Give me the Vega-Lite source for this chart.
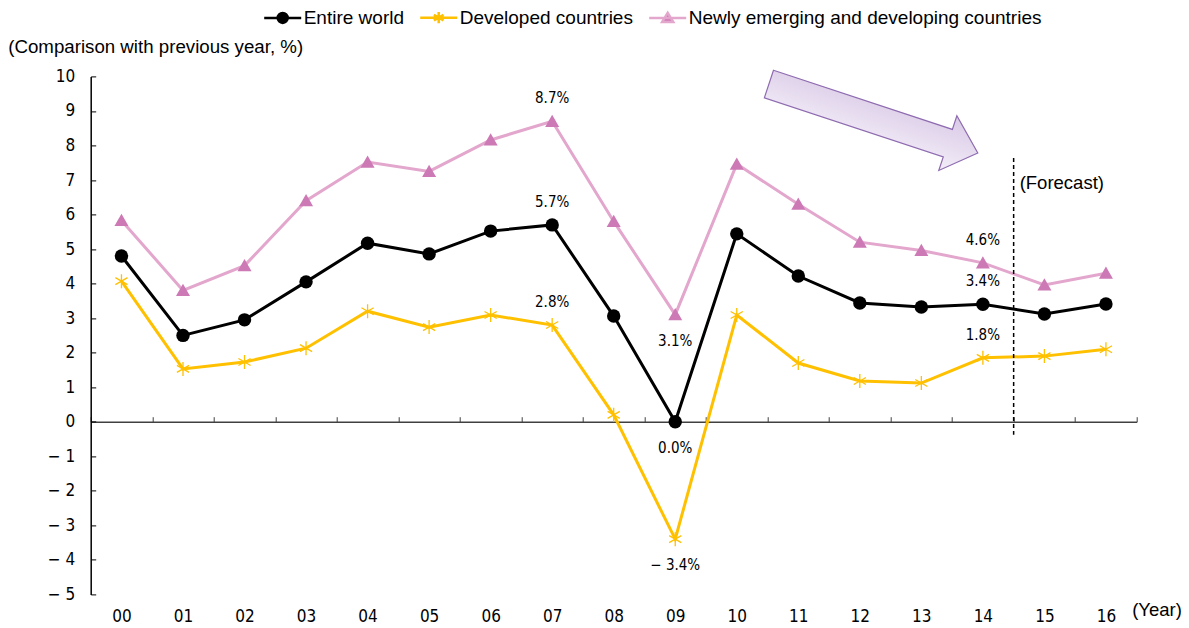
{
  "$schema": "https://vega.github.io/schema/vega-lite/v6.json",
  "width": 1046,
  "height": 518,
  "autosize": "none",
  "padding": {"left": 90.7, "top": 76.4, "right": 52.3, "bottom": 33.6},
  "background": "white",
  "config": {"view": {"stroke": null}, "font": "Liberation Sans"},
  "datasets": {
    "series": [
      {"year": "00", "series": "Entire world", "value": 4.8},
      {"year": "01", "series": "Entire world", "value": 2.5},
      {"year": "02", "series": "Entire world", "value": 2.95},
      {"year": "03", "series": "Entire world", "value": 4.05},
      {"year": "04", "series": "Entire world", "value": 5.17},
      {"year": "05", "series": "Entire world", "value": 4.86},
      {"year": "06", "series": "Entire world", "value": 5.52},
      {"year": "07", "series": "Entire world", "value": 5.7},
      {"year": "08", "series": "Entire world", "value": 3.06},
      {"year": "09", "series": "Entire world", "value": 0.0},
      {"year": "10", "series": "Entire world", "value": 5.44},
      {"year": "11", "series": "Entire world", "value": 4.22},
      {"year": "12", "series": "Entire world", "value": 3.44},
      {"year": "13", "series": "Entire world", "value": 3.32},
      {"year": "14", "series": "Entire world", "value": 3.4},
      {"year": "15", "series": "Entire world", "value": 3.12},
      {"year": "16", "series": "Entire world", "value": 3.41},
      {"year": "00", "series": "Developed countries", "value": 4.07},
      {"year": "01", "series": "Developed countries", "value": 1.53},
      {"year": "02", "series": "Developed countries", "value": 1.73},
      {"year": "03", "series": "Developed countries", "value": 2.13},
      {"year": "04", "series": "Developed countries", "value": 3.2},
      {"year": "05", "series": "Developed countries", "value": 2.74},
      {"year": "06", "series": "Developed countries", "value": 3.09},
      {"year": "07", "series": "Developed countries", "value": 2.8},
      {"year": "08", "series": "Developed countries", "value": 0.2},
      {"year": "09", "series": "Developed countries", "value": -3.4},
      {"year": "10", "series": "Developed countries", "value": 3.09},
      {"year": "11", "series": "Developed countries", "value": 1.7},
      {"year": "12", "series": "Developed countries", "value": 1.18},
      {"year": "13", "series": "Developed countries", "value": 1.12},
      {"year": "14", "series": "Developed countries", "value": 1.85},
      {"year": "15", "series": "Developed countries", "value": 1.9},
      {"year": "16", "series": "Developed countries", "value": 2.1},
      {"year": "00", "series": "Newly emerging and developing countries", "value": 5.83},
      {"year": "01", "series": "Newly emerging and developing countries", "value": 3.8},
      {"year": "02", "series": "Newly emerging and developing countries", "value": 4.52},
      {"year": "03", "series": "Newly emerging and developing countries", "value": 6.4},
      {"year": "04", "series": "Newly emerging and developing countries", "value": 7.52},
      {"year": "05", "series": "Newly emerging and developing countries", "value": 7.25},
      {"year": "06", "series": "Newly emerging and developing countries", "value": 8.16},
      {"year": "07", "series": "Newly emerging and developing countries", "value": 8.7},
      {"year": "08", "series": "Newly emerging and developing countries", "value": 5.8},
      {"year": "09", "series": "Newly emerging and developing countries", "value": 3.1},
      {"year": "10", "series": "Newly emerging and developing countries", "value": 7.46},
      {"year": "11", "series": "Newly emerging and developing countries", "value": 6.3},
      {"year": "12", "series": "Newly emerging and developing countries", "value": 5.2},
      {"year": "13", "series": "Newly emerging and developing countries", "value": 4.96},
      {"year": "14", "series": "Newly emerging and developing countries", "value": 4.6},
      {"year": "15", "series": "Newly emerging and developing countries", "value": 3.96},
      {"year": "16", "series": "Newly emerging and developing countries", "value": 4.3}
    ],
    "labels": [
      {"year": "07", "value": 8.7, "text": "8.7%", "side": "above"},
      {"year": "07", "value": 5.7, "text": "5.7%", "side": "above"},
      {"year": "07", "value": 2.8, "text": "2.8%", "side": "above"},
      {"year": "14", "value": 4.6, "text": "4.6%", "side": "above"},
      {"year": "14", "value": 3.4, "text": "3.4%", "side": "above"},
      {"year": "14", "value": 1.85, "text": "1.8%", "side": "above"},
      {"year": "09", "value": 3.1, "text": "3.1%", "side": "below"},
      {"year": "09", "value": 0.0, "text": "0.0%", "side": "below"},
      {"year": "09", "value": -3.4, "text": "− 3.4%", "side": "below"}
    ],
    "forecast": [
      {"year": "14", "top": 7.64, "bottom": -0.38, "text": "(Forecast)"}
    ],
    "arrow": [
      {"year": "12", "value": 8.78}
    ]
  },
  "layer": [
    {
      "data": {"name": "series"},
      "mark": {"type": "line", "strokeWidth": 3},
      "encoding": {
        "x": {
          "field": "year", "type": "ordinal",
          "scale": {"type": "band", "paddingInner": 0, "paddingOuter": 0},
          "axis": {
            "title": "(Year)", "offset": -172.7, "tickBand": "extent", "tickSize": -5,
            "tickColor": "#404040", "tickWidth": 1, "domainColor": "#404040", "domainWidth": 1.5,
            "labelAngle": 0, "labelAlign": "center", "labelPadding": 192,
            "labelFont": "DejaVu Sans Condensed, Liberation Sans", "labelOverlap": false,
            "labelFontSize": 17, "labelColor": "#000000", "grid": false,
            "titleX": 1041, "titleY": 188, "titleAlign": "left", "titleBaseline": "middle",
            "titleFont": "Liberation Sans", "titleFontSize": 18.5, "titleFontWeight": "normal", "titleColor": "#000000"
          }
        },
        "y": {
          "field": "value", "type": "quantitative",
          "scale": {"domain": [-5, 10], "nice": false, "zero": false},
          "axis": {
            "title": "(Comparison with previous year, %)", "titleAngle": 0, "titleAlign": "left",
            "titleBaseline": "middle", "titleX": -83, "titleY": -30, "titleFont": "Liberation Sans",
            "titleFontSize": 18.7, "titleFontWeight": "normal", "titleColor": "#000000",
            "tickCount": 15, "format": "d",
            "labelExpr": "datum.value < 0 ? '− ' + abs(datum.value) : datum.label",
            "labelFont": "DejaVu Sans Condensed, Liberation Sans", "labelFontSize": 17, "labelColor": "#000000",
            "labelOverlap": false,
            "labelPadding": 21, "tickSize": -5, "tickColor": "#000000", "tickWidth": 1,
            "domainColor": "#000000", "domainWidth": 1.5, "grid": false
          }
        },
        "stroke": {
          "field": "series", "type": "nominal",
          "scale": {
            "domain": ["Entire world", "Developed countries", "Newly emerging and developing countries"],
            "range": ["#000000", "#FFC000", "#E3A6CD"]
          },
          "legend": {
            "orient": "none", "legendX": 172, "legendY": -79, "direction": "horizontal",
            "title": null, "symbolSize": 1369, "symbolStrokeWidth": 2.5,
            "labelFont": "Liberation Sans", "labelFontSize": 19, "labelColor": "#000000",
            "labelLimit": 0, "labelOffset": 1, "columnPadding": 10, "padding": 0,
            "encode": {
              "symbols": {
                "update": {
                  "shape": {"signal": "datum.value === 'Entire world' ? 'M -1 0 L 1 0 M -0.27 0 A 0.27 0.27 0 1 1 0.27 0 A 0.27 0.27 0 1 1 -0.27 0 Z' : datum.value === 'Developed countries' ? 'M -1 0 L 1 0 M 0 -0.3 L 0 0.3 M -0.26 -0.15 L 0.26 0.15 M -0.26 0.15 L 0.26 -0.15' : 'M -1 0 L 1 0 M 0 -0.27 L 0.3 0.22 L -0.3 0.22 Z'"},
                  "fill": {"signal": "datum.value === 'Entire world' ? '#000000' : datum.value === 'Developed countries' ? 'transparent' : '#CC79B5'"},
                  "strokeWidth": {"value": 2.5}
                }
              }
            }
          }
        }
      }
    },
    {
      "data": {"name": "forecast"},
      "mark": {"type": "rule", "strokeDash": [4, 3], "strokeWidth": 1.5, "color": "#000000"},
      "encoding": {
        "x": {"field": "year", "type": "ordinal", "bandPosition": 1},
        "y": {"field": "top", "type": "quantitative"},
        "y2": {"field": "bottom"}
      }
    },
    {
      "data": {"name": "series"},
      "transform": [{"filter": "datum.series === 'Entire world'"}],
      "mark": {"type": "point", "shape": "circle", "filled": true, "size": 180, "color": "#000000", "opacity": 1},
      "encoding": {
        "x": {"field": "year", "type": "ordinal"},
        "y": {"field": "value", "type": "quantitative"}
      }
    },
    {
      "data": {"name": "series"},
      "transform": [{"filter": "datum.series === 'Developed countries'"}],
      "mark": {"type": "point", "shape": "M 0 -1 L 0 1 M -0.87 -0.5 L 0.87 0.5 M -0.87 0.5 L 0.87 -0.5", "filled": false, "size": 196, "stroke": "#FFC000", "strokeWidth": 1.3, "opacity": 1},
      "encoding": {
        "x": {"field": "year", "type": "ordinal"},
        "y": {"field": "value", "type": "quantitative"}
      }
    },
    {
      "data": {"name": "series"},
      "transform": [{"filter": "datum.series === 'Newly emerging and developing countries'"}],
      "mark": {"type": "point", "shape": "M 0 -0.95 L 1 0.8 L -1 0.8 Z", "filled": true, "size": 196, "color": "#CC79B5", "opacity": 1},
      "encoding": {
        "x": {"field": "year", "type": "ordinal"},
        "y": {"field": "value", "type": "quantitative"}
      }
    },
    {
      "data": {"name": "labels"},
      "transform": [{"filter": "datum.side === 'above'"}],
      "mark": {"type": "text", "dy": -23, "font": "DejaVu Sans Condensed, Liberation Sans", "fontSize": 15, "color": "#000000", "baseline": "middle"},
      "encoding": {
        "x": {"field": "year", "type": "ordinal"},
        "y": {"field": "value", "type": "quantitative"},
        "text": {"field": "text"}
      }
    },
    {
      "data": {"name": "labels"},
      "transform": [{"filter": "datum.side === 'below'"}],
      "mark": {"type": "text", "dy": 26, "font": "DejaVu Sans Condensed, Liberation Sans", "fontSize": 15, "color": "#000000", "baseline": "middle"},
      "encoding": {
        "x": {"field": "year", "type": "ordinal"},
        "y": {"field": "value", "type": "quantitative"},
        "text": {"field": "text"}
      }
    },
    {
      "data": {"name": "forecast"},
      "mark": {"type": "text", "align": "left", "baseline": "middle", "dx": 6, "dy": 25, "font": "Liberation Sans", "fontSize": 18.5, "color": "#000000"},
      "encoding": {
        "x": {"field": "year", "type": "ordinal", "bandPosition": 1},
        "y": {"field": "top", "type": "quantitative"},
        "text": {"field": "text"}
      }
    },
    {
      "data": {"name": "arrow"},
      "mark": {
        "type": "point",
        "shape": "M -1 -0.132 L 0.713 -0.132 L 0.713 -0.262 L 1 0 L 0.713 0.262 L 0.713 0.132 L -1 0.132 Z",
        "size": 48400, "angle": 18.3, "filled": true, "opacity": 1,
        "fill": {"gradient": "linear", "x1": 0, "y1": 0, "x2": 0, "y2": 1, "stops": [{"offset": 0, "color": "#D9C9E6"}, {"offset": 1, "color": "#F3EEF8"}]},
        "stroke": "#8E6BB0", "strokeWidth": 1.2
      },
      "encoding": {
        "x": {"field": "year", "type": "ordinal", "bandPosition": 0.72},
        "y": {"field": "value", "type": "quantitative"}
      }
    }
  ]
}
